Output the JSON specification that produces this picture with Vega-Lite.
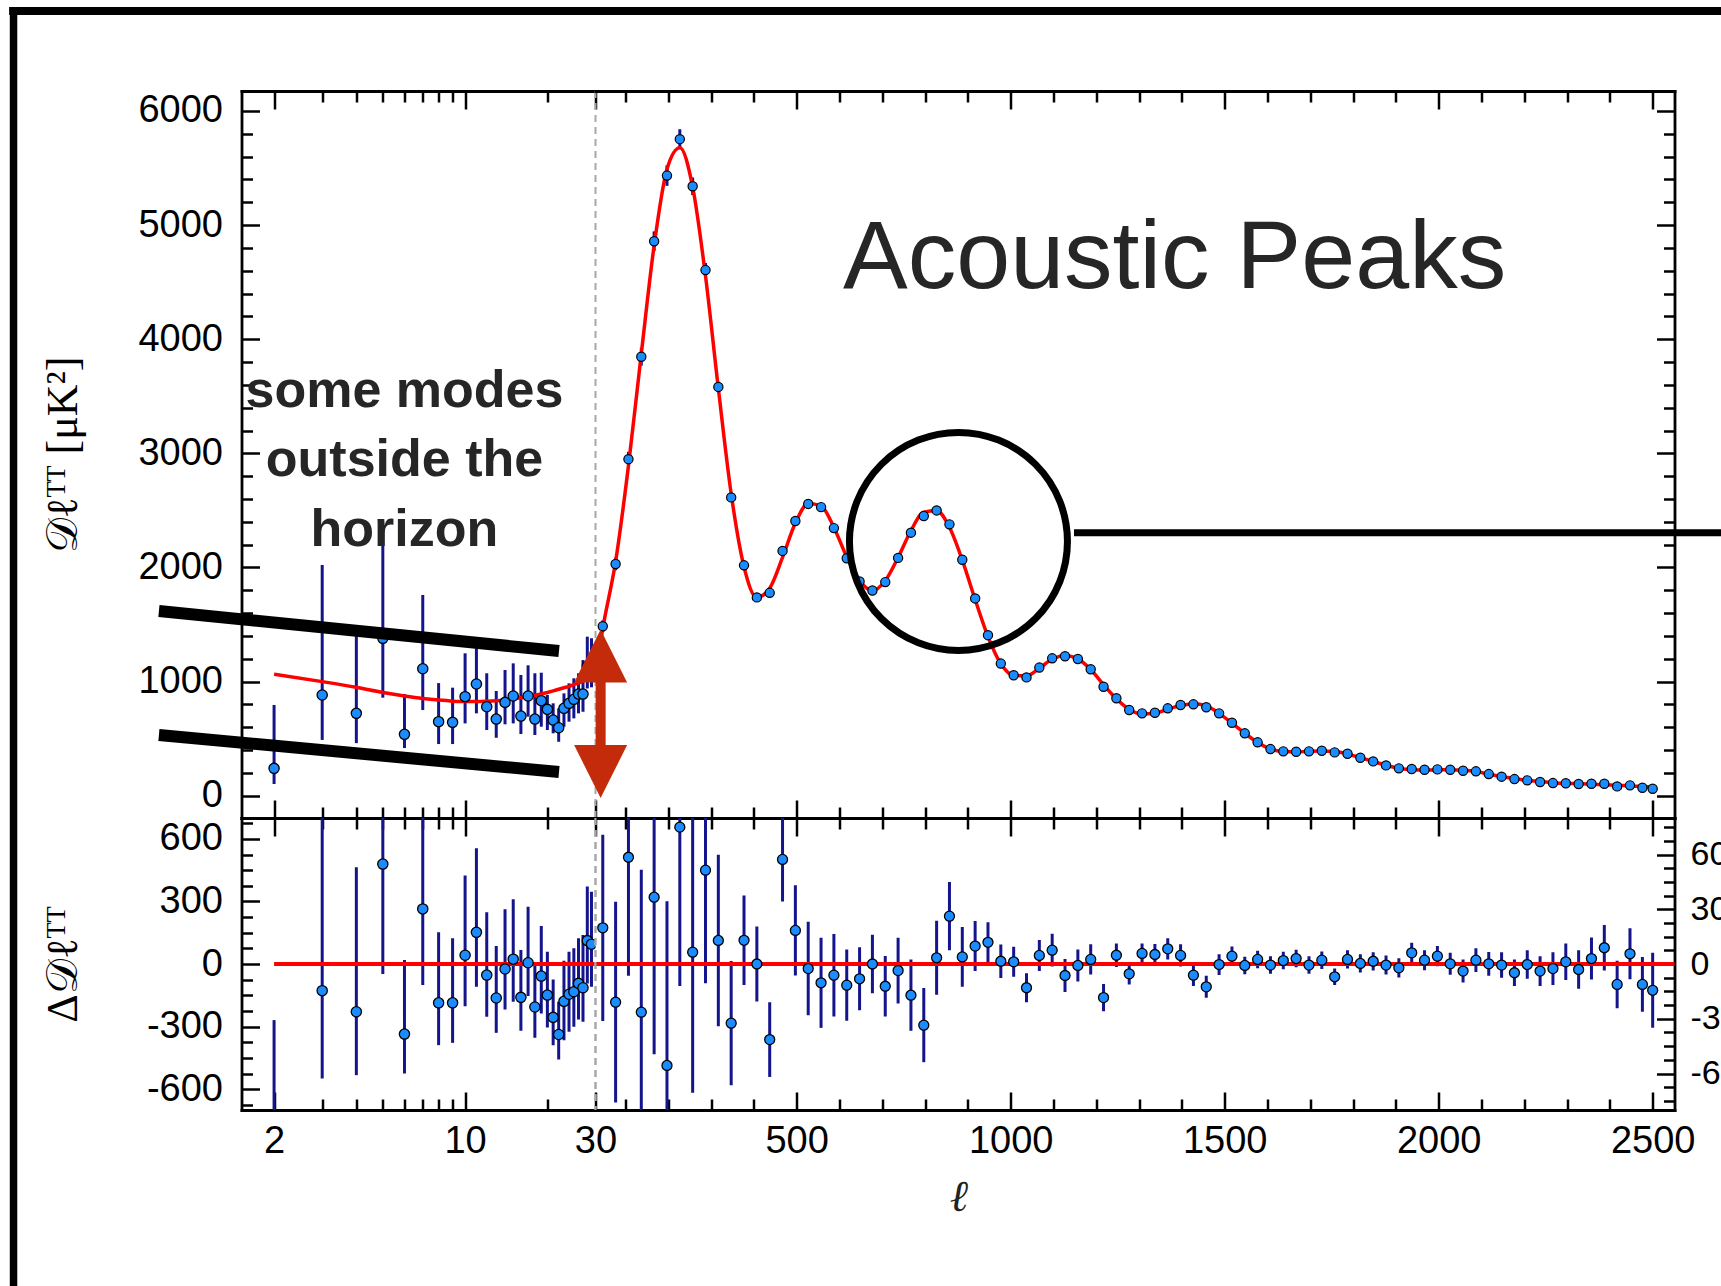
{
  "$schema": "https://vega.github.io/schema/vega-lite/v6.json",
  "autosize": {"type": "none"},
  "padding": {"left": 241.5, "top": 91, "right": 1479.5, "bottom": 1195},
  "background": "white",
  "config": {
    "view": {"stroke": null},
    "axis": {"grid": false, "domainColor": "black", "domainWidth": 2.8, "domainCap": "square", "tickColor": "black", "tickWidth": 2.5, "labelFont": "Liberation Sans", "labelFontSize": 38, "labelColor": "black", "labelFlush": false, "labelOverlap": false}
  },
  "datasets": {
    "low": [
      {"l":2,"D":240,"lo":103,"hi":795,"r":-830,"rlo":-1400,"rhi":-269},
      {"l":3,"D":883,"lo":489,"hi":2022,"r":-128,"rlo":-549,"rhi":1011},
      {"l":4,"D":722,"lo":461,"hi":1417,"r":-229,"rlo":-533,"rhi":464},
      {"l":5,"D":1379,"lo":859,"hi":2329,"r":479,"rlo":-48,"rhi":1429},
      {"l":6,"D":538,"lo":418,"hi":891,"r":-336,"rlo":-525,"rhi":19},
      {"l":7,"D":1113,"lo":751,"hi":1759,"r":264,"rlo":-101,"rhi":910},
      {"l":8,"D":649,"lo":453,"hi":987,"r":-186,"rlo":-389,"rhi":152},
      {"l":9,"D":643,"lo":453,"hi":947,"r":-186,"rlo":-378,"rhi":123},
      {"l":10,"D":868,"lo":634,"hi":1248,"r":42,"rlo":-202,"rhi":424},
      {"l":11,"D":979,"lo":722,"hi":1300,"r":152,"rlo":-109,"rhi":555},
      {"l":12,"D":780,"lo":576,"hi":1073,"r":-53,"rlo":-253,"rhi":248},
      {"l":13,"D":672,"lo":508,"hi":918,"r":-163,"rlo":-330,"rhi":86},
      {"l":14,"D":818,"lo":626,"hi":1102,"r":-24,"rlo":-218,"rhi":262},
      {"l":15,"D":874,"lo":634,"hi":1160,"r":23,"rlo":-181,"rhi":310},
      {"l":16,"D":698,"lo":541,"hi":1058,"r":-160,"rlo":-320,"rhi":67},
      {"l":17,"D":874,"lo":693,"hi":1143,"r":6,"rlo":-154,"rhi":275},
      {"l":18,"D":672,"lo":532,"hi":1073,"r":-206,"rlo":-354,"rhi":-5},
      {"l":19,"D":833,"lo":605,"hi":1078,"r":-58,"rlo":-237,"rhi":182},
      {"l":20,"D":757,"lo":576,"hi":883,"r":-149,"rlo":-304,"rhi":59},
      {"l":21,"D":663,"lo":547,"hi":810,"r":-256,"rlo":-389,"rhi":-74},
      {"l":22,"D":596,"lo":473,"hi":766,"r":-338,"rlo":-458,"rhi":-181},
      {"l":23,"D":766,"lo":605,"hi":897,"r":-179,"rlo":-365,"rhi":16},
      {"l":24,"D":810,"lo":649,"hi":985,"r":-145,"rlo":-325,"rhi":59},
      {"l":25,"D":845,"lo":678,"hi":1029,"r":-133,"rlo":-301,"rhi":75},
      {"l":26,"D":891,"lo":722,"hi":1073,"r":-93,"rlo":-266,"rhi":123},
      {"l":27,"D":891,"lo":736,"hi":1189,"r":-114,"rlo":-277,"rhi":139},
      {"l":28,"D":1134,"lo":940,"hi":1394,"r":112,"rlo":-93,"rhi":371},
      {"l":29,"D":1135,"lo":950,"hi":1380,"r":95,"rlo":-109,"rhi":347}
    ],
    "lowmodel": [
      {"l":2,"m":1064},{"l":3,"m":1000},{"l":4,"m":950},{"l":5,"m":905},{"l":6,"m":874},{"l":7,"m":852},{"l":8,"m":838},{"l":9,"m":829},{"l":10,"m":825},{"l":11,"m":825},{"l":12,"m":828},{"l":13,"m":833},{"l":14,"m":840},{"l":15,"m":850},{"l":16,"m":859},{"l":17,"m":868},{"l":18,"m":879},{"l":19,"m":891},{"l":20,"m":905},{"l":21,"m":919},{"l":22,"m":933},{"l":23,"m":946},{"l":24,"m":958},{"l":25,"m":974},{"l":26,"m":988},{"l":27,"m":1005},{"l":28,"m":1022},{"l":29,"m":1040},{"l":30,"m":1060}
    ],
    "high": [
      {"l":47,"D":1485,"lo":1434,"hi":1536,"r":19.8,"rlo":-31.2,"rhi":70.8},
      {"l":77,"D":2031,"lo":1976,"hi":2086,"r":-20.9,"rlo":-75.9,"rhi":34.1},
      {"l":107,"D":2949,"lo":2884,"hi":3014,"r":58.5,"rlo":-6.5,"rhi":123.5},
      {"l":137,"D":3847,"lo":3769,"hi":3925,"r":-26.4,"rlo":-104.4,"rhi":51.6},
      {"l":167,"D":4859,"lo":4773,"hi":4945,"r":36.6,"rlo":-49.4,"rhi":122.6},
      {"l":197,"D":5434,"lo":5344,"hi":5524,"r":-55.6,"rlo":-145.6,"rhi":34.4},
      {"l":227,"D":5753,"lo":5666,"hi":5840,"r":75,"rlo":-12,"rhi":162},
      {"l":257,"D":5340,"lo":5263,"hi":5417,"r":6.5,"rlo":-70.5,"rhi":83.5},
      {"l":287,"D":4606,"lo":4544,"hi":4668,"r":51.4,"rlo":-10.6,"rhi":113.4},
      {"l":317,"D":3582,"lo":3535,"hi":3629,"r":12.9,"rlo":-34.1,"rhi":59.9},
      {"l":347,"D":2614,"lo":2580,"hi":2648,"r":-32.4,"rlo":-66.4,"rhi":1.6},
      {"l":377,"D":2019,"lo":1994.5,"hi":2043.5,"r":13,"rlo":-11.5,"rhi":37.5},
      {"l":407,"D":1738,"lo":1717.4,"hi":1758.6,"r":0,"rlo":-20.6,"rhi":20.6},
      {"l":437,"D":1778,"lo":1757.5,"hi":1798.5,"r":-41.4,"rlo":-61.9,"rhi":-20.9},
      {"l":467,"D":2145,"lo":2122,"hi":2168,"r":57.3,"rlo":34.3,"rhi":80.3},
      {"l":497,"D":2407,"lo":2382.3,"hi":2431.7,"r":18.4,"rlo":-6.3,"rhi":43.1},
      {"l":527,"D":2557,"lo":2531.4,"hi":2582.6,"r":-2.5,"rlo":-28.1,"rhi":23.1},
      {"l":557,"D":2529,"lo":2504.3,"hi":2553.7,"r":-10.3,"rlo":-35,"rhi":14.4},
      {"l":587,"D":2345,"lo":2322.4,"hi":2367.6,"r":-6.1,"rlo":-28.7,"rhi":16.5},
      {"l":617,"D":2081,"lo":2061.5,"hi":2100.5,"r":-11.6,"rlo":-31.1,"rhi":7.9},
      {"l":647,"D":1877,"lo":1859.7,"hi":1894.3,"r":-8.1,"rlo":-25.4,"rhi":9.2},
      {"l":677,"D":1798,"lo":1782,"hi":1814,"r":0,"rlo":-16,"rhi":16},
      {"l":707,"D":1872,"lo":1855.4,"hi":1888.6,"r":-12.2,"rlo":-28.8,"rhi":4.4},
      {"l":737,"D":2084,"lo":2066,"hi":2102,"r":-3.6,"rlo":-21.6,"rhi":14.4},
      {"l":767,"D":2305,"lo":2285.5,"hi":2324.5,"r":-17.1,"rlo":-36.6,"rhi":2.4},
      {"l":797,"D":2451,"lo":2430.7,"hi":2471.3,"r":-33.5,"rlo":-53.8,"rhi":-13.2},
      {"l":827,"D":2500,"lo":2479.7,"hi":2520.3,"r":3.4,"rlo":-16.9,"rhi":23.7},
      {"l":857,"D":2378,"lo":2359.3,"hi":2396.7,"r":26.2,"rlo":7.5,"rhi":44.9},
      {"l":887,"D":2068,"lo":2051.6,"hi":2084.4,"r":3.9,"rlo":-12.5,"rhi":20.3},
      {"l":917,"D":1729,"lo":1715.3,"hi":1742.7,"r":9.8,"rlo":-3.9,"rhi":23.5},
      {"l":947,"D":1407,"lo":1396,"hi":1418,"r":11.9,"rlo":0.9,"rhi":22.9},
      {"l":977,"D":1158,"lo":1148.8,"hi":1167.2,"r":1.5,"rlo":-7.7,"rhi":10.7},
      {"l":1007,"D":1056,"lo":1047.8,"hi":1064.2,"r":1.2,"rlo":-7,"rhi":9.4},
      {"l":1037,"D":1037,"lo":1029,"hi":1045,"r":-13,"rlo":-21,"rhi":-5},
      {"l":1067,"D":1123,"lo":1114.5,"hi":1131.5,"r":4.7,"rlo":-3.8,"rhi":13.2},
      {"l":1097,"D":1204,"lo":1195,"hi":1213,"r":7.6,"rlo":-1.4,"rhi":16.6},
      {"l":1127,"D":1222,"lo":1213,"hi":1231,"r":-6.3,"rlo":-15.3,"rhi":2.7},
      {"l":1157,"D":1198,"lo":1189.2,"hi":1206.8,"r":-0.8,"rlo":-9.6,"rhi":8},
      {"l":1187,"D":1108,"lo":1099.7,"hi":1116.3,"r":2.5,"rlo":-5.8,"rhi":10.8},
      {"l":1217,"D":955,"lo":947.5,"hi":962.5,"r":-18.4,"rlo":-25.9,"rhi":-10.9},
      {"l":1247,"D":854,"lo":847.6,"hi":860.4,"r":4.8,"rlo":-1.6,"rhi":11.2},
      {"l":1277,"D":751,"lo":745.2,"hi":756.8,"r":-5.4,"rlo":-11.2,"rhi":0.4},
      {"l":1307,"D":722,"lo":716.5,"hi":727.5,"r":5.8,"rlo":0.3,"rhi":11.3},
      {"l":1337,"D":727,"lo":721.3,"hi":732.7,"r":5.2,"rlo":-0.5,"rhi":10.9},
      {"l":1367,"D":766,"lo":760.2,"hi":771.8,"r":8.3,"rlo":2.5,"rhi":14.1},
      {"l":1397,"D":795,"lo":788.9,"hi":801.1,"r":4.7,"rlo":-1.4,"rhi":10.8},
      {"l":1427,"D":801,"lo":795,"hi":807,"r":-6.1,"rlo":-12.1,"rhi":-0.1},
      {"l":1457,"D":775,"lo":769,"hi":781,"r":-12.5,"rlo":-18.5,"rhi":-6.5},
      {"l":1487,"D":722,"lo":716.3,"hi":727.7,"r":-0.3,"rlo":-6,"rhi":5.4},
      {"l":1517,"D":640,"lo":634.7,"hi":645.3,"r":4.3,"rlo":-1,"rhi":9.6},
      {"l":1547,"D":547,"lo":542.2,"hi":551.8,"r":-0.8,"rlo":-5.6,"rhi":4},
      {"l":1577,"D":468,"lo":463.2,"hi":472.8,"r":2.5,"rlo":-2.3,"rhi":7.3},
      {"l":1607,"D":409,"lo":404.2,"hi":413.8,"r":-0.6,"rlo":-5.4,"rhi":4.2},
      {"l":1637,"D":389,"lo":384.2,"hi":393.8,"r":1.9,"rlo":-2.9,"rhi":6.7},
      {"l":1667,"D":386,"lo":381.2,"hi":390.8,"r":3,"rlo":-1.8,"rhi":7.8},
      {"l":1697,"D":389,"lo":384.2,"hi":393.8,"r":-0.6,"rlo":-5.4,"rhi":4.2},
      {"l":1727,"D":394,"lo":389.2,"hi":398.8,"r":2.1,"rlo":-2.7,"rhi":6.9},
      {"l":1757,"D":380,"lo":375.5,"hi":384.5,"r":-7,"rlo":-11.5,"rhi":-2.5},
      {"l":1787,"D":368,"lo":363,"hi":373,"r":2.5,"rlo":-2.5,"rhi":7.5},
      {"l":1817,"D":333,"lo":328,"hi":338,"r":0.3,"rlo":-4.7,"rhi":5.3},
      {"l":1847,"D":301,"lo":296,"hi":306,"r":1.5,"rlo":-3.5,"rhi":6.5},
      {"l":1877,"D":266,"lo":260.8,"hi":271.2,"r":-0.6,"rlo":-5.8,"rhi":4.6},
      {"l":1907,"D":240,"lo":234.7,"hi":245.3,"r":-2.1,"rlo":-7.4,"rhi":3.2},
      {"l":1937,"D":234,"lo":228.5,"hi":239.5,"r":6.1,"rlo":0.6,"rhi":11.6},
      {"l":1967,"D":228,"lo":222.5,"hi":233.5,"r":2.1,"rlo":-3.4,"rhi":7.6},
      {"l":1997,"D":231,"lo":225.5,"hi":236.5,"r":4.3,"rlo":-1.2,"rhi":9.8},
      {"l":2027,"D":228,"lo":222,"hi":234,"r":0.1,"rlo":-5.9,"rhi":6.1},
      {"l":2057,"D":219,"lo":212.7,"hi":225.3,"r":-3.9,"rlo":-10.2,"rhi":2.4},
      {"l":2087,"D":214,"lo":207.5,"hi":220.5,"r":2.1,"rlo":-4.4,"rhi":8.6},
      {"l":2117,"D":190,"lo":183.5,"hi":196.5,"r":0.1,"rlo":-6.4,"rhi":6.6},
      {"l":2147,"D":167,"lo":160,"hi":174,"r":-0.6,"rlo":-7.6,"rhi":6.4},
      {"l":2177,"D":146,"lo":138.8,"hi":153.2,"r":-4.8,"rlo":-12,"rhi":2.4},
      {"l":2207,"D":135,"lo":127.2,"hi":142.8,"r":-0.3,"rlo":-8.1,"rhi":7.5},
      {"l":2237,"D":120,"lo":111.8,"hi":128.2,"r":-3.9,"rlo":-12.1,"rhi":4.3},
      {"l":2267,"D":111,"lo":102,"hi":120,"r":-2.5,"rlo":-11.5,"rhi":6.5},
      {"l":2297,"D":109,"lo":99,"hi":119,"r":1.2,"rlo":-8.8,"rhi":11.2},
      {"l":2327,"D":103,"lo":92.5,"hi":113.5,"r":-3,"rlo":-13.5,"rhi":7.5},
      {"l":2357,"D":105,"lo":93.5,"hi":116.5,"r":3,"rlo":-8.5,"rhi":14.5},
      {"l":2387,"D":105,"lo":92.5,"hi":117.5,"r":8.9,"rlo":-3.6,"rhi":21.4},
      {"l":2417,"D":82,"lo":69,"hi":95,"r":-11.2,"rlo":-24.2,"rhi":1.8},
      {"l":2447,"D":91,"lo":77,"hi":105,"r":5.6,"rlo":-8.4,"rhi":19.6},
      {"l":2476,"D":70,"lo":55,"hi":85,"r":-11.2,"rlo":-26.2,"rhi":3.8},
      {"l":2500,"D":61,"lo":40.5,"hi":81.5,"r":-14.4,"rlo":-34.9,"rhi":6.1}
    ],
    "highmodel": [
      {"l":30,"m":1060},{"l":47,"m":1465},{"l":77,"m":2052},{"l":107,"m":2891},{"l":137,"m":3873},{"l":167,"m":4822},{"l":197,"m":5490},{"l":227,"m":5678},{"l":257,"m":5334},{"l":287,"m":4555},{"l":317,"m":3569},{"l":347,"m":2646},{"l":377,"m":2006},{"l":407,"m":1738},{"l":437,"m":1819},{"l":467,"m":2088},{"l":497,"m":2389},{"l":527,"m":2560},{"l":557,"m":2539},{"l":587,"m":2351},{"l":617,"m":2093},{"l":647,"m":1885},{"l":677,"m":1798},{"l":707,"m":1884},{"l":737,"m":2088},{"l":767,"m":2322},{"l":797,"m":2485},{"l":827,"m":2497},{"l":857,"m":2352},{"l":887,"m":2064},{"l":917,"m":1719},{"l":947,"m":1395},{"l":977,"m":1157},{"l":1007,"m":1055},{"l":1037,"m":1050},{"l":1067,"m":1118},{"l":1097,"m":1196},{"l":1127,"m":1228},{"l":1157,"m":1199},{"l":1187,"m":1106},{"l":1217,"m":973},{"l":1247,"m":849},{"l":1277,"m":756},{"l":1307,"m":716},{"l":1337,"m":722},{"l":1367,"m":758},{"l":1397,"m":790},{"l":1427,"m":807},{"l":1457,"m":788},{"l":1487,"m":722},{"l":1517,"m":636},{"l":1547,"m":548},{"l":1577,"m":466},{"l":1607,"m":410},{"l":1637,"m":387},{"l":1667,"m":383},{"l":1697,"m":390},{"l":1727,"m":392},{"l":1757,"m":387},{"l":1787,"m":366},{"l":1817,"m":333},{"l":1847,"m":300},{"l":1877,"m":267},{"l":1907,"m":242},{"l":1937,"m":228},{"l":1967,"m":226},{"l":1997,"m":227},{"l":2027,"m":228},{"l":2057,"m":223},{"l":2087,"m":212},{"l":2117,"m":190},{"l":2147,"m":168},{"l":2177,"m":151},{"l":2207,"m":135},{"l":2237,"m":124},{"l":2267,"m":114},{"l":2297,"m":108},{"l":2327,"m":106},{"l":2357,"m":102},{"l":2387,"m":96},{"l":2417,"m":93},{"l":2447,"m":85},{"l":2476,"m":81},{"l":2500,"m":75}
    ]
  },
  "columns": 2,
  "spacing": 0,
  "bounds": "flush",
  "align": "each",
  "concat": [
    {
      "width": 354,
      "height": 727,
      "resolve": {"axis": {"x": "independent", "y": "independent"}},
      "layer": [
        {
          "data": {"name": "low"},
          "mark": {"type": "rule", "color": "#14148c", "strokeWidth": 3},
          "encoding": {
            "x": {"field": "l", "type": "quantitative", "scale": {"type": "log", "domain": [1.52, 30], "nice": false},
                  "axis": {"orient": "bottom", "values": [2, 10, 30], "tickSize": -18, "labels": false, "domain": true, "title": null}},
            "y": {"field": "lo", "type": "quantitative", "scale": {"domain": [-195, 6175], "nice": false, "zero": false},
                  "axis": {"orient": "left", "values": [0, 1000, 2000, 3000, 4000, 5000, 6000], "tickSize": -18, "labelPadding": 37, "labelExpr": "toString(datum.value)", "domain": true,
                           "title": "𝒟ℓᵀᵀ [μK²]", "titleX": -178, "titleY": 363.5, "titleAngle": 270, "titleAlign": "center", "titleBaseline": "middle", "titleFont": "Liberation Serif", "titleFontSize": 44, "titleFontWeight": "normal", "titleColor": "black"}},
            "y2": {"field": "hi"}
          }
        },
        {
          "data": {"name": "lowmodel"},
          "mark": {"type": "line", "color": "#ff0000", "strokeWidth": 3.5, "interpolate": "monotone"},
          "encoding": {
            "x": {"field": "l", "type": "quantitative", "axis": {"orient": "bottom", "values": [3, 4, 5, 6, 7, 8, 9, 20], "tickSize": -11, "labels": false, "domain": false, "title": null}},
            "y": {"field": "m", "type": "quantitative", "axis": {"orient": "left", "values": [200, 400, 600, 800, 1200, 1400, 1600, 1800, 2200, 2400, 2600, 2800, 3200, 3400, 3600, 3800, 4200, 4400, 4600, 4800, 5200, 5400, 5600, 5800], "tickSize": -11, "labels": false, "domain": false, "title": null}}
          }
        },
        {
          "data": {"name": "low"},
          "mark": {"type": "point", "shape": "circle", "filled": true, "fill": "#1a8cff", "stroke": "black", "strokeWidth": 1.3, "size": 105, "opacity": 1},
          "encoding": {
            "x": {"field": "l", "type": "quantitative", "axis": {"orient": "top", "values": [2, 10, 30], "tickSize": -18, "labels": false, "domain": true, "title": null}},
            "y": {"field": "D", "type": "quantitative", "axis": null}
          }
        },
        {
          "data": {"values": [{}]},
          "mark": {"type": "rule", "color": "#a8a8a8", "strokeWidth": 2, "strokeDash": [7, 5]},
          "encoding": {
            "x": {"datum": 30, "type": "quantitative", "axis": {"orient": "top", "values": [3, 4, 5, 6, 7, 8, 9, 20], "tickSize": -11, "labels": false, "domain": false, "title": null}}
          }
        },
        {
          "data": {"values": [{}]},
          "mark": {"type": "rule", "color": "black", "strokeWidth": 12},
          "encoding": {
            "x": {"datum": 0.758, "type": "quantitative", "axis": null},
            "y": {"datum": 1619, "type": "quantitative", "axis": null},
            "x2": {"datum": 22.06},
            "y2": {"datum": 1268}
          }
        },
        {
          "data": {"values": [{}]},
          "mark": {"type": "rule", "color": "black", "strokeWidth": 12},
          "encoding": {
            "x": {"datum": 0.758, "type": "quantitative", "axis": null},
            "y": {"datum": 532, "type": "quantitative", "axis": null},
            "x2": {"datum": 22.06},
            "y2": {"datum": 208}
          }
        },
        {
          "data": {"values": [{}]},
          "mark": {"type": "text", "text": ["some modes", "outside the", "horizon"], "font": "Liberation Sans", "fontWeight": "bold", "fontSize": 52, "color": "#262626", "align": "center", "baseline": "alphabetic", "lineHeight": 69.5},
          "encoding": {
            "x": {"datum": 6.0, "type": "quantitative", "axis": null},
            "y": {"datum": 3407, "type": "quantitative", "axis": null}
          }
        },
        {
          "data": {"values": [{}]},
          "mark": {"type": "rule", "color": "black", "strokeWidth": 7.5},
          "encoding": {
            "x": {"datum": 0.2227, "type": "quantitative", "axis": null},
            "y": {"datum": 6910, "type": "quantitative", "axis": null},
            "y2": {"datum": -4400}
          }
        }
      ]
    },
    {
      "width": 1079,
      "height": 727,
      "resolve": {"axis": {"x": "independent", "y": "independent"}},
      "layer": [
        {
          "data": {"name": "high"},
          "mark": {"type": "rule", "color": "#14148c", "strokeWidth": 3},
          "encoding": {
            "x": {"field": "l", "type": "quantitative", "scale": {"type": "linear", "domain": [30, 2551], "nice": false, "zero": false},
                  "axis": {"orient": "bottom", "values": [500, 1000, 1500, 2000, 2500], "tickSize": -18, "labels": false, "domain": true, "title": null}},
            "y": {"field": "lo", "type": "quantitative", "scale": {"domain": [-195, 6175], "nice": false, "zero": false},
                  "axis": {"orient": "right", "values": [0, 1000, 2000, 3000, 4000, 5000, 6000], "tickSize": -18, "labels": false, "domain": true, "title": null}},
            "y2": {"field": "hi"}
          }
        },
        {
          "data": {"name": "highmodel"},
          "mark": {"type": "line", "color": "#ff0000", "strokeWidth": 3.5, "interpolate": "monotone"},
          "encoding": {
            "x": {"field": "l", "type": "quantitative", "axis": {"orient": "bottom", "values": [100, 200, 300, 400, 600, 700, 800, 900, 1100, 1200, 1300, 1400, 1600, 1700, 1800, 1900, 2100, 2200, 2300, 2400], "tickSize": -11, "labels": false, "domain": false, "title": null}},
            "y": {"field": "m", "type": "quantitative", "axis": {"orient": "right", "values": [200, 400, 600, 800, 1200, 1400, 1600, 1800, 2200, 2400, 2600, 2800, 3200, 3400, 3600, 3800, 4200, 4400, 4600, 4800, 5200, 5400, 5600, 5800], "tickSize": -11, "labels": false, "domain": false, "title": null}}
          }
        },
        {
          "data": {"name": "high"},
          "mark": {"type": "point", "shape": "circle", "filled": true, "fill": "#1a8cff", "stroke": "black", "strokeWidth": 1.2, "size": 85, "opacity": 1},
          "encoding": {
            "x": {"field": "l", "type": "quantitative", "axis": {"orient": "top", "values": [500, 1000, 1500, 2000, 2500], "tickSize": -18, "labels": false, "domain": true, "title": null}},
            "y": {"field": "D", "type": "quantitative", "axis": null}
          }
        },
        {
          "data": {"values": [{}]},
          "mark": {"type": "text", "text": "Acoustic Peaks", "font": "Liberation Sans", "fontSize": 97, "color": "#262626", "align": "center", "baseline": "alphabetic"},
          "encoding": {
            "x": {"datum": 1383, "type": "quantitative", "axis": {"orient": "top", "values": [100, 200, 300, 400, 600, 700, 800, 900, 1100, 1200, 1300, 1400, 1600, 1700, 1800, 1900, 2100, 2200, 2300, 2400], "tickSize": -11, "labels": false, "domain": false, "title": null}},
            "y": {"datum": 4450, "type": "quantitative", "axis": null}
          }
        },
        {
          "data": {"values": [{}]},
          "mark": {"type": "point", "shape": "circle", "filled": false, "stroke": "black", "strokeWidth": 7, "size": 47524, "opacity": 1},
          "encoding": {
            "x": {"datum": 878, "type": "quantitative", "axis": null},
            "y": {"datum": 2228, "type": "quantitative", "axis": null}
          }
        },
        {
          "data": {"values": [{}]},
          "mark": {"type": "rule", "color": "black", "strokeWidth": 7},
          "encoding": {
            "x": {"datum": 1148, "type": "quantitative", "axis": null},
            "x2": {"datum": 2700},
            "y": {"datum": 2305, "type": "quantitative", "axis": null}
          }
        },
        {
          "data": {"values": [{}]},
          "mark": {"type": "rule", "color": "#c42b0b", "strokeWidth": 10},
          "encoding": {
            "x": {"datum": 42, "type": "quantitative", "axis": null},
            "y": {"datum": 1060, "type": "quantitative", "axis": null},
            "y2": {"datum": 400}
          }
        },
        {
          "data": {"values": [{}]},
          "mark": {"type": "point", "shape": "M-1,1L1,1L0,-1Z", "filled": true, "color": "#c42b0b", "size": 2809, "opacity": 1, "strokeWidth": 0},
          "encoding": {
            "x": {"datum": 42, "type": "quantitative", "axis": null},
            "y": {"datum": 1224, "type": "quantitative", "axis": null}
          }
        },
        {
          "data": {"values": [{}]},
          "mark": {"type": "point", "shape": "M-1,-1L1,-1L0,1Z", "filled": true, "color": "#c42b0b", "size": 2809, "opacity": 1, "strokeWidth": 0},
          "encoding": {
            "x": {"datum": 42, "type": "quantitative", "axis": null},
            "y": {"datum": 212, "type": "quantitative", "axis": null}
          }
        },
        {
          "data": {"values": [{}]},
          "mark": {"type": "rule", "color": "black", "strokeWidth": 8},
          "encoding": {
            "x": {"datum": -1340, "type": "quantitative", "axis": null},
            "x2": {"datum": 2700},
            "y": {"datum": 6876, "type": "quantitative", "axis": null}
          }
        }
      ]
    },
    {
      "width": 354,
      "height": 292,
      "resolve": {"axis": {"x": "independent", "y": "independent"}},
      "layer": [
        {
          "data": {"name": "low"},
          "mark": {"type": "rule", "color": "#14148c", "strokeWidth": 3, "clip": true},
          "encoding": {
            "x": {"field": "l", "type": "quantitative", "scale": {"type": "log", "domain": [1.52, 30], "nice": false},
                  "axis": {"orient": "bottom", "values": [2, 10, 30], "tickSize": -18, "labelPadding": 30, "labelExpr": "toString(datum.value)", "domain": true, "title": null}},
            "y": {"field": "rlo", "type": "quantitative", "scale": {"domain": [-700, 700], "nice": false, "zero": false},
                  "axis": {"orient": "left", "values": [-600, -300, 0, 300, 600], "tickSize": -18, "labelPadding": 37, "labelExpr": "toString(datum.value)", "domain": true,
                           "title": "Δ𝒟ℓᵀᵀ", "titleX": -178, "titleY": 146, "titleAngle": 270, "titleAlign": "center", "titleBaseline": "middle", "titleFont": "Liberation Serif", "titleFontSize": 44, "titleFontWeight": "normal", "titleColor": "black"}},
            "y2": {"field": "rhi"}
          }
        },
        {
          "data": {"values": [{}]},
          "mark": {"type": "rule", "color": "#ff0000", "strokeWidth": 4},
          "encoding": {
            "x": {"datum": 2, "type": "quantitative", "axis": {"orient": "bottom", "values": [3, 4, 5, 6, 7, 8, 9, 20], "tickSize": -11, "labels": false, "domain": false, "title": null}},
            "x2": {"datum": 30},
            "y": {"datum": 0, "type": "quantitative", "axis": {"orient": "left", "values": [-675, -525, -450, -375, -225, -150, -75, 75, 150, 225, 375, 450, 525, 675], "tickSize": -11, "labels": false, "domain": false, "title": null}}
          }
        },
        {
          "data": {"name": "low"},
          "mark": {"type": "point", "shape": "circle", "filled": true, "fill": "#1a8cff", "stroke": "black", "strokeWidth": 1.3, "size": 105, "opacity": 1, "clip": true},
          "encoding": {
            "x": {"field": "l", "type": "quantitative", "axis": {"orient": "top", "values": [2, 10, 30], "tickSize": -18, "labels": false, "domain": true, "title": null}},
            "y": {"field": "r", "type": "quantitative", "axis": null}
          }
        },
        {
          "data": {"values": [{}]},
          "mark": {"type": "rule", "color": "#a8a8a8", "strokeWidth": 2, "strokeDash": [7, 5]},
          "encoding": {
            "x": {"datum": 30, "type": "quantitative", "axis": {"orient": "top", "values": [3, 4, 5, 6, 7, 8, 9, 20], "tickSize": -11, "labels": false, "domain": false, "title": null}}
          }
        }
      ]
    },
    {
      "width": 1079,
      "height": 292,
      "resolve": {"axis": {"x": "independent", "y": "independent"}},
      "layer": [
        {
          "data": {"name": "high"},
          "mark": {"type": "rule", "color": "#14148c", "strokeWidth": 3, "clip": true},
          "encoding": {
            "x": {"field": "l", "type": "quantitative", "scale": {"type": "linear", "domain": [30, 2551], "nice": false, "zero": false},
                  "axis": {"orient": "bottom", "values": [500, 1000, 1500, 2000, 2500], "tickSize": -18, "labelPadding": 30, "labelExpr": "toString(datum.value)", "domain": true,
                           "title": "ℓ", "titleX": 363, "titleY": 100, "titleAlign": "center", "titleBaseline": "alphabetic", "titleAngle": 0, "titleFont": "DejaVu Serif", "titleFontStyle": "italic", "titleFontSize": 44, "titleFontWeight": "normal", "titleColor": "#222222"}},
            "y": {"field": "rlo", "type": "quantitative", "scale": {"domain": [-80, 80], "nice": false, "zero": false},
                  "axis": {"orient": "right", "values": [-60, -30, 0, 30, 60], "tickSize": -18, "labelPadding": 33.5, "labelExpr": "toString(datum.value)", "labelFontSize": 34, "domain": true, "title": null}},
            "y2": {"field": "rhi"}
          }
        },
        {
          "data": {"values": [{}]},
          "mark": {"type": "rule", "color": "#ff0000", "strokeWidth": 4},
          "encoding": {
            "x": {"datum": 30, "type": "quantitative", "axis": {"orient": "bottom", "values": [100, 200, 300, 400, 600, 700, 800, 900, 1100, 1200, 1300, 1400, 1600, 1700, 1800, 1900, 2100, 2200, 2300, 2400], "tickSize": -11, "labels": false, "domain": false, "title": null}},
            "x2": {"datum": 2551},
            "y": {"datum": 0, "type": "quantitative", "axis": {"orient": "right", "values": [-75, -67.5, -52.5, -45, -37.5, -22.5, -15, -7.5, 7.5, 15, 22.5, 37.5, 45, 52.5, 67.5, 75], "tickSize": -11, "labels": false, "domain": false, "title": null}}
          }
        },
        {
          "data": {"name": "high"},
          "mark": {"type": "point", "shape": "circle", "filled": true, "fill": "#1a8cff", "stroke": "black", "strokeWidth": 1.3, "size": 100, "opacity": 1, "clip": true},
          "encoding": {
            "x": {"field": "l", "type": "quantitative", "axis": {"orient": "top", "values": [500, 1000, 1500, 2000, 2500], "tickSize": -18, "labels": false, "domain": true, "title": null}},
            "y": {"field": "r", "type": "quantitative", "axis": null}
          }
        },
        {
          "data": {"values": [{}]},
          "mark": {"type": "rule", "color": "#a8a8a8", "strokeWidth": 2, "strokeDash": [7, 5]},
          "encoding": {
            "x": {"datum": 30, "type": "quantitative", "axis": {"orient": "top", "values": [100, 200, 300, 400, 600, 700, 800, 900, 1100, 1200, 1300, 1400, 1600, 1700, 1800, 1900, 2100, 2200, 2300, 2400], "tickSize": -11, "labels": false, "domain": false, "title": null}}
          }
        }
      ]
    }
  ]
}
